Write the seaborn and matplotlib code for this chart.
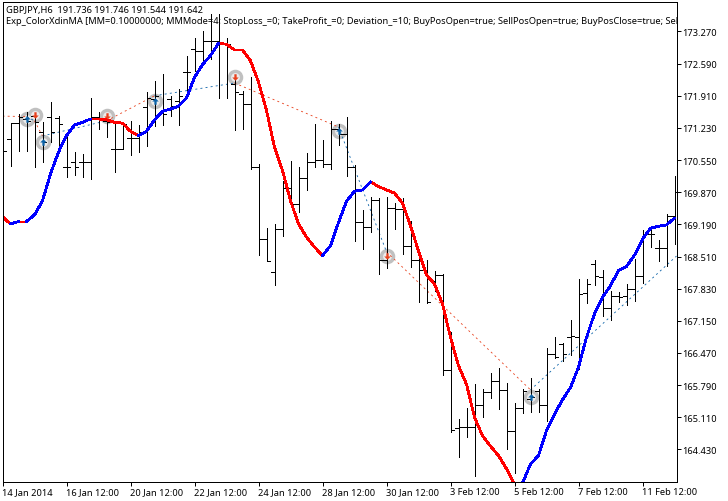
import matplotlib
matplotlib.use("Agg")
import matplotlib.pyplot as plt
from matplotlib.path import Path
import numpy as np
import pandas as pd
import seaborn as sns

highs = [171.53,171.31,171.53,171.57,171.53,171.36,171.78,171.48,171.06,170.72,170.68,171.86,171.57,171.53,171.36,171.31,171.38,171.29,171.99,172.22,172.37,171.91,172.05,172.75,173.13,173.28,173.64,173.64,173.13,172.33,172.01,172.31,170.47,169.11,169.20,170.11,170.53,170.40,170.70,171.31,170.97,171.38,171.31,171.46,170.45,169.49,169.77,169.75,169.77,169.64,169.75,169.26,168.61,168.44,168.20,168.14,166.91,165.07,165.31,165.81,165.71,166.05,166.15,165.84,165.41,165.71,165.94,165.71,166.57,166.81,166.68,167.17,168.04,168.04,168.44,168.22,167.78,167.76,167.93,168.46,169.07,169.14,168.86,169.41,170.21]
lows = [170.68,170.43,170.74,170.74,170.40,170.51,170.93,170.85,170.19,170.23,170.19,170.15,171.21,171.04,170.30,170.78,170.66,170.72,170.85,171.27,171.29,171.48,171.29,171.88,172.43,172.65,172.69,171.86,171.86,171.19,171.21,170.36,168.54,168.42,167.91,168.94,169.56,169.45,169.92,170.40,170.40,170.36,170.87,170.21,168.84,168.67,169.03,168.14,168.27,169.09,168.56,168.29,167.55,167.53,167.78,166.00,164.80,164.27,164.69,163.87,165.12,165.52,165.29,164.44,163.93,165.20,165.22,165.22,165.03,166.36,166.30,166.43,166.13,167.53,167.91,167.25,167.17,167.55,167.49,167.57,167.95,168.71,168.42,168.31,168.77]
opens = [171.21,170.99,171.33,171.42,171.48,171.14,171.46,171.44,170.40,170.51,170.51,170.51,171.46,171.38,170.78,170.78,171.02,171.02,171.67,171.84,171.57,171.84,171.80,172.41,172.90,172.86,173.07,173.07,173.00,172.16,171.95,171.74,170.40,168.88,168.18,169.09,169.96,169.62,170.17,170.51,170.55,170.47,171.21,171.10,170.40,169.24,169.14,169.71,168.44,169.54,169.52,168.73,168.44,168.22,167.99,168.12,166.11,164.88,164.91,164.91,165.37,165.65,165.88,165.69,164.82,165.31,165.50,165.67,165.37,166.45,166.66,166.81,166.81,167.74,168.35,168.08,167.42,167.68,167.68,167.82,168.10,168.99,168.69,168.69,169.37]
closes = [170.74,171.33,171.46,171.38,171.36,170.93,171.14,171.31,170.40,170.40,170.51,171.46,171.40,171.36,170.78,171.31,171.02,171.14,171.86,171.91,171.53,171.69,171.91,172.41,172.86,173.07,173.07,173.00,173.00,171.99,171.74,170.40,168.88,168.42,169.09,169.96,169.62,170.17,170.51,170.55,170.47,171.21,171.10,170.40,169.24,169.14,169.71,168.44,169.54,169.52,168.73,168.44,168.22,167.55,168.12,166.11,164.84,164.91,164.91,165.37,165.65,165.88,165.69,164.82,165.31,165.67,165.54,165.37,166.45,166.39,166.45,166.83,167.72,167.93,168.10,167.42,167.68,167.65,167.82,168.10,168.99,168.99,168.69,169.37,169.88]
ma_values = [169.35,169.20,169.25,169.25,169.39,169.69,170.26,170.72,171.07,171.29,171.35,171.42,171.42,171.40,171.35,171.33,171.16,171.07,171.16,171.40,171.58,171.63,171.69,171.86,172.30,172.57,172.76,173.02,173.00,172.88,172.88,172.65,172.20,171.60,170.82,170.33,169.69,169.20,168.92,168.71,168.53,168.74,169.23,169.68,169.89,169.92,170.09,169.99,169.92,169.85,169.64,169.16,168.63,168.12,167.93,167.51,166.80,166.20,165.81,165.11,164.72,164.50,164.30,164.02,163.68,163.72,164.12,164.30,164.83,165.18,165.48,165.74,166.17,166.80,167.30,167.65,167.89,168.22,168.30,168.54,168.88,169.11,169.15,169.18,169.32]
# index ranges over which the average falls (drawn red); the rest rises (blue)
falling_spans = [(0, 1), (2, 3), (11, 17), (27, 40), (46, 64)]

deal_bars = [0, 3, 4, 5, 13, 19, 29, 42, 48, 66, 84.25]
deal_prices = [171.48, 171.47, 171.38, 171.06, 171.38, 171.91, 172.18, 171.25, 168.61, 165.69, 168.52]

buy_bars = [3, 5, 19, 42, 66]
buy_marks = [171.42, 170.93, 171.81, 171.17, 165.54]
sell_bars = [4, 13, 29, 48]
sell_marks = [171.50, 171.48, 172.30, 168.53]

price_ticks = [173.27, 172.59, 171.91, 171.23, 170.55, 169.87, 169.19, 168.51,
               167.83, 167.15, 166.47, 165.79, 165.11, 164.43]
time_ticks = [0, 8, 16, 24, 32, 40, 48, 56, 64, 72, 80]
time_labels = ["14 Jan 2014", "16 Jan 12:00", "20 Jan 12:00", "22 Jan 12:00", "24 Jan 12:00",
               "28 Jan 12:00", "30 Jan 12:00", "3 Feb 12:00", "5 Feb 12:00", "7 Feb 12:00", "11 Feb 12:00"]
title_line1 = "GBPJPY,H6  191.736 191.746 191.544 191.642"
title_line2 = ("Exp_ColorXdinMA [MM=0.10000000; MMMode=4; StopLoss_=0; TakeProfit_=0; Deviation_=10; "
               "BuyPosOpen=true; SellPosOpen=true; BuyPosClose=true; Sel")

sns.set_theme(style="white")
FONT = "Noto Sans"
plt.rcParams["font.family"] = [FONT, "DejaVu Sans"]
FS = 6.7

W, H = 728, 502
fig = plt.figure(figsize=(W / 100, H / 100), dpi=100)
ax = fig.add_axes([2.5 / W, 1 - 482.5 / H, 674 / W, 480 / H])
ax.set_xlim(0, 84.25)
ax.set_ylim(163.752, 173.904)

RED_DEAL, BLUE_DEAL = "#e8401c", "#0b62a8"
BLUE_MA, RED_MA = "#0000ff", "#ff0000"
UP_ARROW = Path([(0, 1), (1, 0), (0.35, 0), (0.35, -1), (-0.35, -1), (-0.35, 0), (-1, 0), (0, 1)], closed=True)
DOWN_ARROW = Path([(0, -1), (1, 0), (0.35, 0), (0.35, 1), (-0.35, 1), (-0.35, 0), (-1, 0), (0, -1)], closed=True)

# deal rings, underneath the bars
ring_df = pd.DataFrame({"bar": buy_bars + sell_bars, "price": buy_marks + sell_marks})
sns.scatterplot(data=ring_df, x="bar", y="price", s=125, color="#c0c0c0", linewidth=0, ax=ax, zorder=2, legend=False)
sns.scatterplot(data=ring_df, x="bar", y="price", s=40, color="#ececec", linewidth=0, ax=ax, zorder=2.1, legend=False)

# dotted trade connectors, alternating colours
for k in range(len(deal_bars) - 1):
    sns.lineplot(x=deal_bars[k:k + 2], y=deal_prices[k:k + 2], color=RED_DEAL if k % 2 == 0 else BLUE_DEAL,
                 lw=0.6, linestyle=(0, (2.4, 3.8)), ax=ax, zorder=2.5, estimator=None, sort=False)

# OHLC bars
bar_ix = np.arange(len(highs))
TW = 3.5 / 8
ax.vlines(bar_ix, lows, highs, color="black", lw=0.72, zorder=3, antialiased=False)
ax.hlines(opens, bar_ix - TW, bar_ix, color="black", lw=0.72, zorder=3, antialiased=False)
ax.hlines(closes, bar_ix, bar_ix + TW, color="black", lw=0.72, zorder=3, antialiased=False)

# deal arrows above the bars
sns.scatterplot(x=buy_bars, y=buy_marks, marker=UP_ARROW, s=22, color=BLUE_DEAL, linewidth=0, ax=ax, zorder=3.2, legend=False)
sns.scatterplot(x=sell_bars, y=sell_marks, marker=DOWN_ARROW, s=22, color=RED_DEAL, linewidth=0, ax=ax, zorder=3.2, legend=False)

# coloured moving average, one run per trend
edges = []
cur = 0
for a, b in falling_spans:
    if a > cur:
        edges.append((cur, a, "rise"))
    edges.append((a, b, "fall"))
    cur = b
edges.append((cur, len(ma_values) - 1, "rise"))
rows = []
for uid, (a, b, kind) in enumerate(edges):
    for j in range(a, b + 1):
        rows.append({"bar": j, "ma": ma_values[j], "run": uid, "trend": kind})
ma_df = pd.DataFrame(rows)
sns.lineplot(data=ma_df, x="bar", y="ma", hue="trend", units="run", estimator=None, sort=False,
             palette={"rise": BLUE_MA, "fall": RED_MA}, lw=1.3, ax=ax, zorder=4, legend=False,
             antialiased=False, solid_joinstyle="miter")

for s in ["left", "right", "top", "bottom"]:
    ax.spines[s].set_visible(True)
    ax.spines[s].set_color("black")
    ax.spines[s].set_linewidth(0.72)
    ax.spines[s].set_zorder(6)

ax.yaxis.tick_right()
ax.set_yticks(price_ticks)
ax.set_yticklabels([f"{v:.3f}" for v in price_ticks])
ax.set_xticks(time_ticks)
ax.set_xticklabels(time_labels, ha="left")
ax.tick_params(axis="both", which="major", length=3, width=0.72, color="black", labelcolor="black",
               labelsize=FS, direction="out", bottom=True, right=True, left=False)
ax.tick_params(axis="x", pad=1)
ax.tick_params(axis="y", pad=1)
ax.set_xlabel("")
ax.set_ylabel("")

ax.text(6 / W, 1 - 10.5 / H, title_line1, transform=fig.transFigure, fontsize=FS, color="black",
        va="center", ha="left", zorder=7)
ax.text(6 / W, 1 - 21.5 / H, title_line2, transform=fig.transFigure, fontsize=FS, color="black",
        va="center", ha="left", zorder=7)

fig.savefig("out.png", dpi=100, facecolor="white")
